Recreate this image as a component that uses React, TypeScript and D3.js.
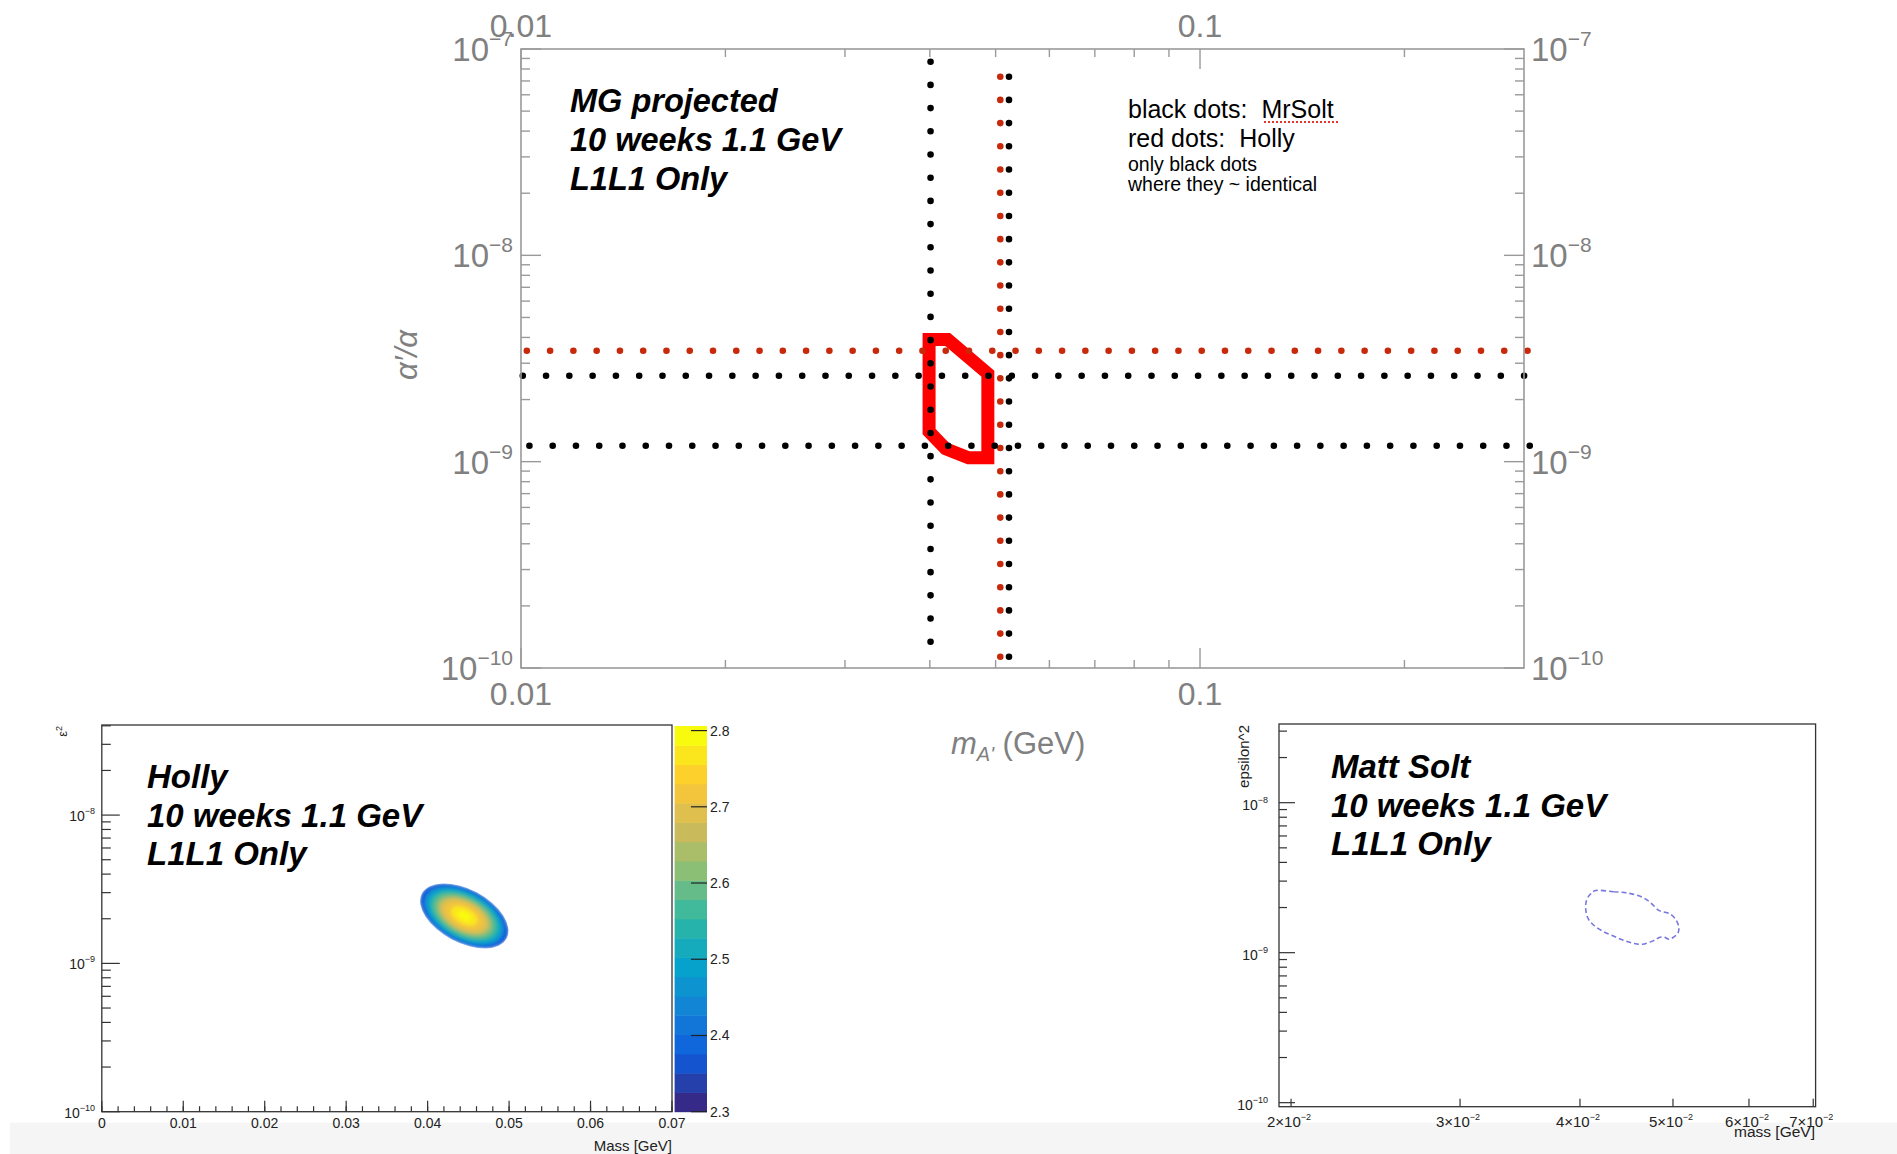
import React from 'react';
import * as d3 from 'd3';

const W = 1897;
const H = 1154;
const FONT = "'Liberation Sans', Arial, Helvetica, sans-serif";

// ---------------- Main plot (MG projected) ----------------
const mainMassDomain = [0.01, 0.3];
const mainEpsDomain = [1e-10, 1e-7];
const mainXMajor = [0.01, 0.1];
const mainXMajorLabels = ['0.01', '0.1'];
const mainXMinor = [0.02, 0.03, 0.04, 0.05, 0.06, 0.07, 0.08, 0.09, 0.2];
const mainYMajor = [1e-7, 1e-8, 1e-9, 1e-10];
const mainYMajorExp = ['−7', '−8', '−9', '−10'];
const mainYMinorMant = [2, 3, 4, 5, 6, 7, 8, 9];
const mainYMinorDecades = [1e-10, 1e-9, 1e-8];

// dotted lines: vertical (fixed mass) and horizontal (fixed epsilon^2)
const vLineSeries = ['Holly', 'MrSolt', 'MrSolt'];
const vLineMass = [0.0508, 0.0401, 0.05232];
const vLineEpsTop = [7.34e-8, 8.68e-8, 7.34e-8];
const vLineEpsBottom = [1.133e-10, 1.34e-10, 1.133e-10];

const hLineSeries = ['Holly', 'MrSolt', 'MrSolt'];
const hLineEps = [3.447e-9, 2.61e-9, 1.195e-9];
const hLineMassStart = [0.0102, 0.01006, 0.01029];
const hLineMassEnd = [0.3036, 0.3001, 0.3059];

// MG projected exclusion region (red outline)
const regionMass = [0.0399, 0.0425, 0.0487, 0.0487, 0.0456, 0.0422, 0.0399];
const regionEps = [3.91e-9, 3.91e-9, 2.67e-9, 1.045e-9, 1.045e-9, 1.156e-9, 1.4e-9];

const mainTextLines = ['MG projected', '10 weeks 1.1 GeV', 'L1L1 Only'];
const legendLines = ['black dots:  MrSolt', 'red dots:  Holly'];
const legendNotes = ['only black dots', 'where they ~ identical'];

// ---------------- Holly panel ----------------
const hollyMassDomain = [0, 0.07];
const hollyEpsDomain = [1e-10, 4.05e-8];
const hollyXMajor = [0, 0.01, 0.02, 0.03, 0.04, 0.05, 0.06, 0.07];
const hollyXMajorLabels = ['0', '0.01', '0.02', '0.03', '0.04', '0.05', '0.06', '0.07'];
const hollyYMajor = [1e-10, 1e-9, 1e-8];
const hollyYMajorExp = ['−10', '−9', '−8'];
const zRange = [2.3, 2.806];
const zTicks = [2.3, 2.4, 2.5, 2.6, 2.7, 2.8];
const zTickLabels = ['2.3', '2.4', '2.5', '2.6', '2.7', '2.8'];
const nBands = 20;
// ROOT kBird palette stops
const birdR = [0.2082, 0.0592, 0.078, 0.0232, 0.1802, 0.5301, 0.8186, 0.9956, 0.9764];
const birdG = [0.1664, 0.3599, 0.5041, 0.6419, 0.7178, 0.7492, 0.7328, 0.7862, 0.9832];
const birdB = [0.5293, 0.8684, 0.8385, 0.7914, 0.6425, 0.4662, 0.3499, 0.1968, 0.0539];
// blob: centre and axis end points (mass, eps^2)
const blobCenter = [0.0445, 2.09e-9];
const blobMajorEnd = [0.04971, 1.475e-9];
const blobMinorEnd = [0.04297, 1.45e-9];
const blobLevels = [2.36, 2.4, 2.44, 2.48, 2.52, 2.56, 2.6, 2.64, 2.68, 2.72, 2.76, 2.79];
const blobRadius = [1.0, 0.95, 0.9, 0.85, 0.8, 0.74, 0.68, 0.61, 0.53, 0.43, 0.3, 0.15];
const hollyTextLines = ['Holly', '10 weeks 1.1 GeV', 'L1L1 Only'];

// ---------------- Matt Solt panel ----------------
const mattMassDomain = [0.01943, 0.0704];
const mattEpsDomain = [9.4e-11, 3.347e-8];
const mattXMajor = [0.02, 0.03, 0.04, 0.05, 0.06, 0.07];
const mattXMant = ['2', '3', '4', '5', '6', '7'];
const mattYMajor = [1e-10, 1e-9, 1e-8];
const mattYMajorExp = ['−10', '−9', '−8'];
const mattContourMass = [0.04144, 0.04334, 0.04498, 0.04646, 0.04746, 0.04823, 0.04874, 0.04952, 0.05022, 0.0507, 0.05059, 0.05005, 0.04952, 0.04899, 0.04847, 0.04771, 0.04646, 0.04547, 0.04452, 0.04334, 0.0422, 0.04131, 0.04078, 0.04055, 0.04064, 0.041];
const mattContourEps = [2.59e-9, 2.55e-9, 2.49e-9, 2.34e-9, 2.135e-9, 1.93e-9, 1.876e-9, 1.83e-9, 1.696e-9, 1.49e-9, 1.347e-9, 1.267e-9, 1.228e-9, 1.267e-9, 1.267e-9, 1.202e-9, 1.138e-9, 1.155e-9, 1.202e-9, 1.292e-9, 1.395e-9, 1.53e-9, 1.696e-9, 1.977e-9, 2.245e-9, 2.45e-9];
const mattTextLines = ['Matt Solt', '10 weeks 1.1 GeV', 'L1L1 Only'];

const seriesColor: Record<string, string> = { MrSolt: '#000000', Holly: '#c8290b' };

function minorLog(decades: number[], mant: number[], dom: number[]) {
  const out: number[] = [];
  decades.forEach((d) => mant.forEach((m) => {
    const v = d * m;
    if (v > dom[0] * 1.0001 && v < dom[1] * 0.9999) out.push(v);
  }));
  return out;
}

function DottedLine({ x1, y1, x2, y2, color }: any) {
  const len = Math.hypot(x2 - x1, y2 - y1);
  const n = Math.max(1, Math.round(len / 23.22));
  const gap = len / n;
  // extend the path by a pixel so the final dot is not lost to rounding
  const ux = (x2 - x1) / len, uy = (y2 - y1) / len;
  return (
    <line x1={x1} y1={y1} x2={x2 + ux * 1.5} y2={y2 + uy * 1.5} stroke={color} strokeWidth={6.6}
      strokeLinecap="round" strokeDasharray={`0 ${gap}`} />
  );
}

function MainPlot() {
  const L = 521, R = 1524, T = 49, B = 668;
  const x = d3.scaleLog().domain(mainMassDomain).range([L, R]);
  const y = d3.scaleLog().domain(mainEpsDomain).range([B, T]);
  const axisColor = '#9a9a9a';
  const labColor = '#808080';
  const yMinor = minorLog(mainYMinorDecades, mainYMinorMant, mainEpsDomain);
  const region = d3.line<number>().x((_, i) => x(regionMass[i])).y((_, i) => y(regionEps[i])).curve(d3.curveLinearClosed)(regionMass.map((_, i) => i));
  return (
    <g fontFamily={FONT}>
      {/* region */}
      <path d={region || ''} fill="none" stroke="#ff0000" strokeWidth={13} strokeLinejoin="miter" />
      {/* red series first, then black */}
      {['Holly', 'MrSolt'].map((s) => (
        <g key={s}>
          {hLineEps.map((e, i) => hLineSeries[i] === s ? (
            <DottedLine key={'h' + i} x1={x(hLineMassStart[i])} y1={y(e)} x2={x(hLineMassEnd[i])} y2={y(e)} color={seriesColor[s]} />
          ) : null)}
          {vLineMass.map((m, i) => vLineSeries[i] === s ? (
            <DottedLine key={'v' + i} x1={x(m)} y1={y(vLineEpsTop[i])} x2={x(m)} y2={y(vLineEpsBottom[i])} color={seriesColor[s]} />
          ) : null)}
        </g>
      ))}
      {/* frame */}
      <rect x={L} y={T} width={R - L} height={B - T} fill="none" stroke={axisColor} strokeWidth={1.6} />
      {/* x ticks top & bottom */}
      {mainXMajor.map((v, i) => (
        <g key={'xm' + i}>
          <line x1={x(v)} x2={x(v)} y1={T} y2={T + 20} stroke={axisColor} strokeWidth={1.4} />
          <line x1={x(v)} x2={x(v)} y1={B} y2={B - 20} stroke={axisColor} strokeWidth={1.4} />
          <text x={x(v)} y={37} textAnchor="middle" fontSize={32} fill={labColor}>{mainXMajorLabels[i]}</text>
          <text x={x(v)} y={705} textAnchor="middle" fontSize={32} fill={labColor}>{mainXMajorLabels[i]}</text>
        </g>
      ))}
      {mainXMinor.map((v, i) => (
        <g key={'xn' + i}>
          <line x1={x(v)} x2={x(v)} y1={T} y2={T + 8} stroke={axisColor} strokeWidth={1.4} />
          <line x1={x(v)} x2={x(v)} y1={B} y2={B - 8} stroke={axisColor} strokeWidth={1.4} />
        </g>
      ))}
      {/* y ticks left & right */}
      {mainYMajor.map((v, i) => (
        <g key={'ym' + i}>
          <line x1={L} x2={L + 20} y1={y(v)} y2={y(v)} stroke={axisColor} strokeWidth={1.4} />
          <line x1={R} x2={R - 20} y1={y(v)} y2={y(v)} stroke={axisColor} strokeWidth={1.4} />
          <text x={513} y={y(v) + 12} textAnchor="end" fontSize={33} fill={labColor}>
            10<tspan dy={-15} fontSize={21}>{mainYMajorExp[i]}</tspan>
          </text>
          <text x={1531} y={y(v) + 12} textAnchor="start" fontSize={33} fill={labColor}>
            10<tspan dy={-15} fontSize={21}>{mainYMajorExp[i]}</tspan>
          </text>
        </g>
      ))}
      {yMinor.map((v, i) => (
        <g key={'yn' + i}>
          <line x1={L} x2={L + 9} y1={y(v)} y2={y(v)} stroke={axisColor} strokeWidth={1.4} />
          <line x1={R} x2={R - 9} y1={y(v)} y2={y(v)} stroke={axisColor} strokeWidth={1.4} />
        </g>
      ))}
      {/* axis titles */}
      <text transform="translate(417,355) rotate(-90)" textAnchor="middle" fontSize={31} fontStyle="italic" fill={labColor}>α′/α</text>
      <text x={951} y={754} fontSize={31} fill={labColor}>
        <tspan fontStyle="italic">m</tspan>
        <tspan fontStyle="italic" fontSize={20} dy={7}>A'</tspan>
        <tspan dy={-7}> (GeV)</tspan>
      </text>
      {/* annotation */}
      {mainTextLines.map((t, i) => (
        <text key={'mt' + i} x={570} y={112 + i * 39} fontSize={32.5} fontWeight="bold" fontStyle="italic" fill="#000">{t}</text>
      ))}
      {legendLines.map((t, i) => (
        <text key={'lg' + i} x={1128} y={118 + i * 29} fontSize={25} fill="#000" style={{ whiteSpace: 'pre' }}>{t}</text>
      ))}
      {legendNotes.map((t, i) => (
        <text key={'ln' + i} x={1128} y={171 + i * 20} fontSize={19.5} fill="#000">{t}</text>
      ))}
      <line x1={1264} x2={1338} y1={122} y2={122} stroke="#e8322a" strokeWidth={2} strokeDasharray="2 2" />
    </g>
  );
}

function HollyPanel() {
  const L = 101.8, R = 672, T = 725, B = 1111.7;
  const x = d3.scaleLinear().domain(hollyMassDomain).range([L, R]);
  const y = d3.scaleLog().domain(hollyEpsDomain).range([B, T]);
  const cbL = 674.6, cbR = 707;
  const zScale = d3.scaleLinear().domain(zRange).range([B, 726]);
  const palette = d3.piecewise(d3.interpolateRgb, birdR.map((r, i) => d3.rgb(r * 255, birdG[i] * 255, birdB[i] * 255).toString()));
  const bandW = (zRange[1] - zRange[0]) / nBands;
  const bandColor = (k: number) => palette(k / (nBands - 1));
  const zColor = (z: number) => bandColor(Math.max(0, Math.min(nBands - 1, Math.floor((z - zRange[0]) / bandW))));
  const bands = d3.range(nBands);
  const xMinor = d3.range(0, 0.0701, 0.002);
  const yMinor = minorLog([1e-10, 1e-9, 1e-8], [2, 3, 4, 5, 6, 7, 8, 9], hollyEpsDomain);
  const cx = x(blobCenter[0]), cy = y(blobCenter[1]);
  const ax = x(blobMajorEnd[0]) - cx, ay = y(blobMajorEnd[1]) - cy;
  const bx = x(blobMinorEnd[0]) - cx, by = y(blobMinorEnd[1]) - cy;
  const a = Math.hypot(ax, ay), b = Math.hypot(bx, by);
  const ang = (Math.atan2(ay, ax) * 180) / Math.PI;
  const stroke = '#333';
  return (
    <g fontFamily={FONT}>
      <defs>
        <clipPath id="blobClip">
          <ellipse cx={0} cy={0} rx={a} ry={b} />
        </clipPath>
        <filter id="blobBlur" x="-20%" y="-20%" width="140%" height="140%">
          <feGaussianBlur stdDeviation={1.6} />
        </filter>
      </defs>
      <g transform={`translate(${cx},${cy}) rotate(${ang})`}>
        <g clipPath="url(#blobClip)">
          <g filter="url(#blobBlur)">
            {blobLevels.map((z, i) => (
              <ellipse key={i} cx={0} cy={0} rx={a * blobRadius[i]} ry={b * blobRadius[i]} fill={zColor(z)} />
            ))}
          </g>
        </g>
      </g>
      {/* colorbar */}
      {bands.map((k) => (
        <rect key={k} x={cbL} width={cbR - cbL} y={zScale(zRange[0] + (k + 1) * bandW)} height={zScale(zRange[0] + k * bandW) - zScale(zRange[0] + (k + 1) * bandW) + 0.5} fill={bandColor(k)} />
      ))}
      {zTicks.map((z, i) => (
        <g key={'zt' + i}>
          <line x1={cbR} x2={cbR - 16} y1={zScale(z)} y2={zScale(z)} stroke="#222" strokeWidth={1.2} />
          <text x={710} y={zScale(z) + 5} fontSize={14} fill="#222">{zTickLabels[i]}</text>
        </g>
      ))}
      {/* frame */}
      <rect x={L} y={T} width={R - L} height={B - T} fill="none" stroke={stroke} strokeWidth={1.3} />
      {hollyXMajor.map((v, i) => (
        <g key={'hx' + i}>
          <line x1={x(v)} x2={x(v)} y1={B} y2={B - 11} stroke={stroke} strokeWidth={1.2} />
          <text x={x(v)} y={1128} textAnchor="middle" fontSize={14} fill="#222">{hollyXMajorLabels[i]}</text>
        </g>
      ))}
      {xMinor.map((v, i) => (
        <line key={'hxn' + i} x1={x(v)} x2={x(v)} y1={B} y2={B - 5.5} stroke={stroke} strokeWidth={1.2} />
      ))}
      {hollyYMajor.map((v, i) => (
        <g key={'hy' + i}>
          <line x1={L} x2={L + 18} y1={y(v)} y2={y(v)} stroke={stroke} strokeWidth={1.2} />
          <text x={95} y={y(v) + 6} textAnchor="end" fontSize={14} fill="#222">
            10<tspan dy={-7} fontSize={9}>{hollyYMajorExp[i]}</tspan>
          </text>
        </g>
      ))}
      {yMinor.map((v, i) => (
        <line key={'hyn' + i} x1={L} x2={L + 9} y1={y(v)} y2={y(v)} stroke={stroke} strokeWidth={1.2} />
      ))}
      <text transform="translate(67,726) rotate(-90)" textAnchor="end" fontSize={13} fill="#222">
        ε<tspan dy={-5} fontSize={9}>2</tspan>
      </text>
      <text x={672} y={1151} textAnchor="end" fontSize={15} fill="#222">Mass [GeV]</text>
      {hollyTextLines.map((t, i) => (
        <text key={'ht' + i} x={147} y={788 + i * 38.5} fontSize={33} fontWeight="bold" fontStyle="italic" fill="#000">{t}</text>
      ))}
    </g>
  );
}

function MattPanel() {
  const L = 1279, R = 1815.6, T = 724, B = 1106.7;
  const x = d3.scaleLog().domain(mattMassDomain).range([L, R]);
  const y = d3.scaleLog().domain(mattEpsDomain).range([B, T]);
  const stroke = '#333';
  const yMinor = minorLog([1e-11, 1e-10, 1e-9, 1e-8], [2, 3, 4, 5, 6, 7, 8, 9], mattEpsDomain);
  const contour = d3.line<number>().x((i) => x(mattContourMass[i])).y((i) => y(mattContourEps[i])).curve(d3.curveCatmullRomClosed.alpha(0.5))(mattContourMass.map((_, i) => i));
  return (
    <g fontFamily={FONT}>
      <path d={contour || ''} fill="none" stroke="#7777e0" strokeWidth={1.6} strokeDasharray="5 3" />
      <rect x={L} y={T} width={R - L} height={B - T} fill="none" stroke={stroke} strokeWidth={1.3} />
      {mattXMajor.map((v, i) => (
        <g key={'mx' + i}>
          <line x1={x(v)} x2={x(v)} y1={B} y2={B - 8} stroke={stroke} strokeWidth={1.2} />
          <text x={x(v) - 2} y={1127} textAnchor="middle" fontSize={15} fill="#222">
            {mattXMant[i]}×10<tspan dy={-7} fontSize={9}>−2</tspan>
          </text>
        </g>
      ))}
      {mattYMajor.map((v, i) => (
        <g key={'my' + i}>
          <line x1={L} x2={L + 16} y1={y(v)} y2={y(v)} stroke={stroke} strokeWidth={1.2} />
          <text x={1268} y={y(v) + 7} textAnchor="end" fontSize={14} fill="#222">
            10<tspan dy={-7} fontSize={9}>{mattYMajorExp[i]}</tspan>
          </text>
        </g>
      ))}
      {yMinor.map((v, i) => (
        <line key={'myn' + i} x1={L} x2={L + 8} y1={y(v)} y2={y(v)} stroke={stroke} strokeWidth={1.2} />
      ))}
      <text transform="translate(1249,725) rotate(-90)" textAnchor="end" fontSize={15} fill="#222">epsilon^2</text>
      <text x={1815} y={1137} textAnchor="end" fontSize={15.5} fill="#222">mass [GeV]</text>
      {mattTextLines.map((t, i) => (
        <text key={'mtt' + i} x={1331} y={778 + i * 38.5} fontSize={33} fontWeight="bold" fontStyle="italic" fill="#000">{t}</text>
      ))}
    </g>
  );
}

export default function App() {
  return (
    <svg width={W} height={H} viewBox={`0 0 ${W} ${H}`} style={{ position: 'absolute', left: 0, top: 0, display: 'block' }}>
      <rect x={0} y={0} width={W} height={H} fill="#ffffff" />
      <rect x={10} y={1122.7} width={W - 10} height={H - 1122.7} fill="#f5f5f5" />
      <HollyPanel />
      <MattPanel />
      <MainPlot />
    </svg>
  );
}
